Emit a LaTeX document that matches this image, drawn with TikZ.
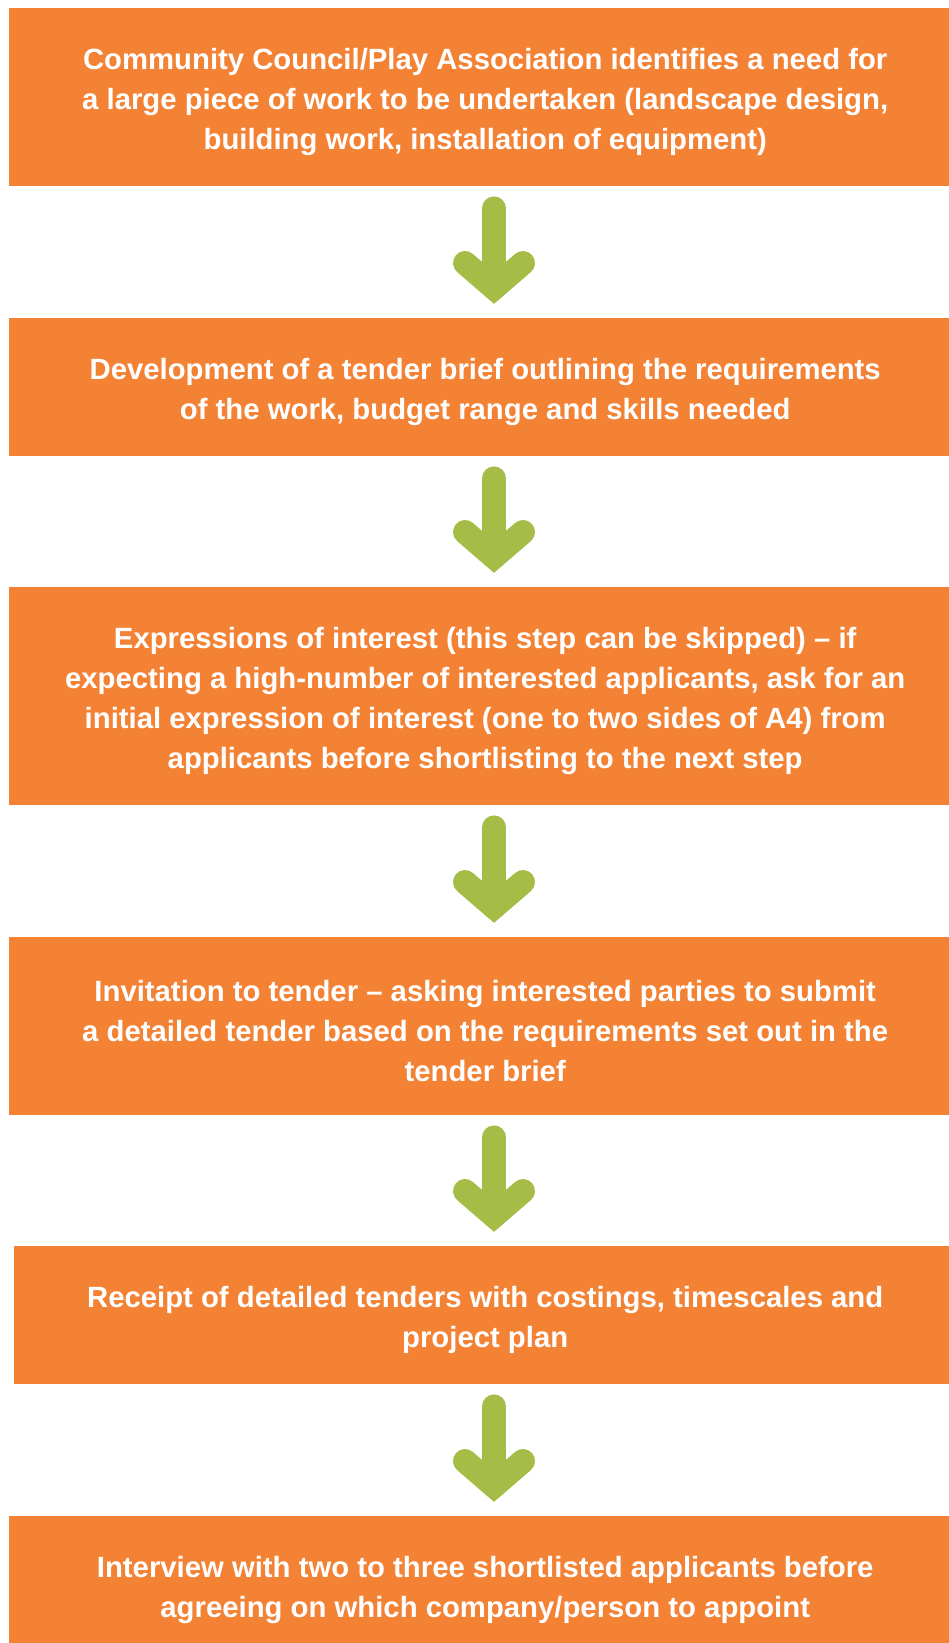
\documentclass[tikz,border=0pt]{standalone}
\usepackage{fontspec}
\setmainfont{Liberation Sans}
\usetikzlibrary{calc}
\definecolor{boxorange}{RGB}{244,130,53}
\definecolor{arrowgreen}{RGB}{165,189,71}
\begin{document}
\begin{tikzpicture}[x=1pt,y=-1pt,
  stepbox/.style={fill=boxorange, draw=none, inner sep=0pt, anchor=north west},
  steptext/.style={text=white, inner sep=0pt, font=\bfseries\fontsize{29.3}{40}\selectfont, align=center},
  greenarrow/.style={draw=arrowgreen, line width=24pt, line cap=round, line join=miter}]
\useasboundingbox (0,0) rectangle (948,1643);
\coordinate (ax) at (494,0);
\node[stepbox, minimum width=952pt, minimum height=178pt] (b1) at (9,8) {};
\node[stepbox, minimum width=952pt, minimum height=138pt] (b2) at (9,318) {};
\node[stepbox, minimum width=952pt, minimum height=218pt] (b3) at (9,587) {};
\node[stepbox, minimum width=952pt, minimum height=178pt] (b4) at (9,937) {};
\node[stepbox, minimum width=942pt, minimum height=138pt] (b5) at (14,1246) {};
\node[stepbox, minimum width=952pt, minimum height=138pt] (b6) at (9,1516) {};
\node[steptext] (t1) at ($(b1.center)+(0,4.5)$)
  {Community Council/Play Association identifies a need for\\
   a large piece of work to be undertaken (landscape design,\\
   building work, installation of equipment)};
\node[steptext] (t2) at ($(b2.center)+(0,4.5)$)
  {Development of a tender brief outlining the requirements\\
   of the work, budget range and skills needed};
\node[steptext] (t3) at ($(b3.center)+(0,4.5)$)
  {Expressions of interest (this step can be skipped) -- if\\
   expecting a high-number of interested applicants, ask for an\\
   initial expression of interest (one to two sides of A4) from\\
   applicants before shortlisting to the next step};
\node[steptext] (t4) at ($(b4.center)+(0,4.5)$)
  {Invitation to tender -- asking interested parties to submit\\
   a detailed tender based on the requirements set out in the\\
   tender brief};
\node[steptext] (t5) at ($(b5.center)+(0,4.5)$)
  {Receipt of detailed tenders with costings, timescales and\\
   project plan};
\node[steptext] (t6) at ($(b6.center)+(0,4.5)$)
  {Interview with two to three shortlisted applicants before\\
   agreeing on which company/person to appoint};
\foreach \a/\b in {b1/b2,b2/b3,b3/b4,b4/b5,b5/b6}{
  \draw[greenarrow] ($(\a.south -| ax)+(0,22)$) -- ($(\b.north -| ax)+(0,-30)$);
  \draw[greenarrow] ($(\b.north -| ax)+(-29,-55)$) -- ($(\b.north -| ax)+(0,-30)$) -- ($(\b.north -| ax)+(29,-55)$);
}
\end{tikzpicture}
\end{document}
